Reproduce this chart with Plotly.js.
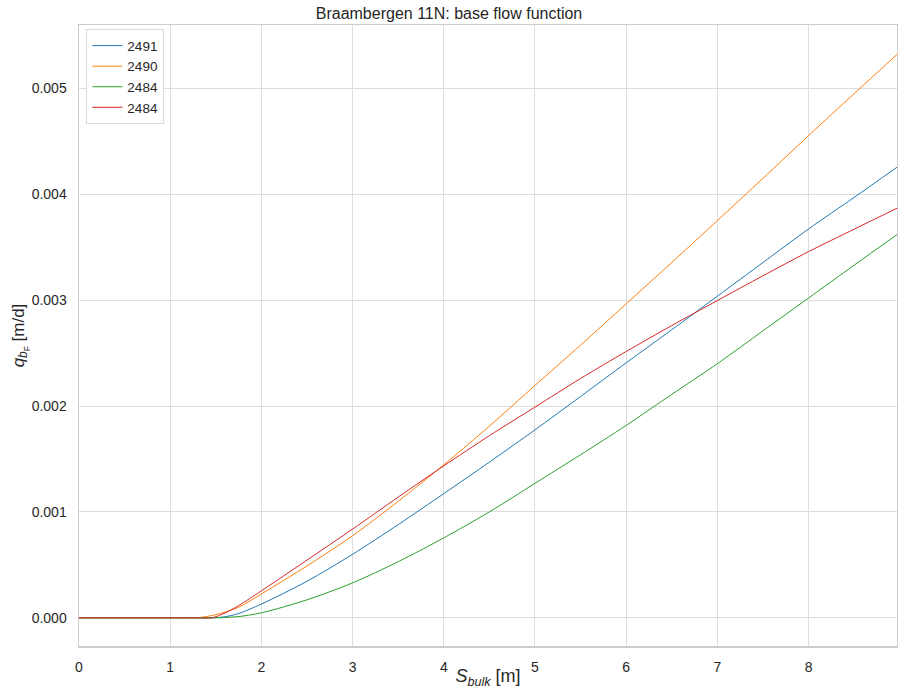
<!DOCTYPE html>
<html>
<head>
<meta charset="utf-8">
<script src="https://cdn.plot.ly/plotly-3.0.1.min.js"></script>
<style>html,body{margin:0;padding:0;background:#fff;}#chart{width:898px;height:689px;}</style>
</head>
<body>
<div id="chart"></div>
<script>
// Series names (legend labels)
const seriesNames = ["2491", "2490", "2484", "2484"];

// S_bulk [m] and q_bF [m/d] readings per series
const x2491 = [0, 1.3, 1.455, 1.6, 1.75, 2, 2.5, 3, 3.5, 4, 4.5, 5, 5.5, 6, 6.5, 7, 7.5, 8, 8.5, 8.97];
const y2491 = [0, 0, 0, 0.00001, 0.00004, 0.00013, 0.000345, 0.0006, 0.00088, 0.001173, 0.00147, 0.001775, 0.00209, 0.002408, 0.00272, 0.003037, 0.003355, 0.003672, 0.00397, 0.004255];

const x2490 = [0, 1.1, 1.29, 1.5, 1.75, 2, 2.5, 3, 3.5, 4, 4.5, 5, 5.5, 6, 6.5, 7, 7.5, 8, 8.5, 8.97];
const y2490 = [0, 0, 0, 0.00003, 0.0001, 0.000225, 0.00049, 0.000775, 0.0011, 0.001445, 0.00181, 0.002194, 0.002575, 0.002965, 0.003355, 0.003751, 0.00415, 0.004553, 0.00495, 0.00532];

const x2484a = [0, 1.3, 1.5, 1.75, 2, 2.5, 3, 3.5, 4, 4.5, 5, 5.5, 6, 6.5, 7, 7.5, 8, 8.5, 8.97];
const y2484a = [0, 0, 0, 0.000012, 0.000047, 0.00017, 0.00033, 0.00053, 0.000755, 0.001, 0.00127, 0.00154, 0.001817, 0.00211, 0.0024, 0.00271, 0.00302, 0.00333, 0.003619];

const x2484b = [0, 1.3, 1.455, 1.6, 1.75, 2, 2.5, 3, 3.5, 4, 4.5, 5, 5.5, 6, 6.5, 7, 7.5, 8, 8.5, 8.97];
const y2484b = [0, 0, 0, 0.000045, 0.000115, 0.000255, 0.000545, 0.000838, 0.00114, 0.001435, 0.00172, 0.00199, 0.00226, 0.002515, 0.00276, 0.002996, 0.00323, 0.003458, 0.00367, 0.003868];

const colors = ["#1f77b4", "#ff7f0e", "#2ca02c", "#d62728"];
const xs = [x2491, x2490, x2484a, x2484b];
const ys = [y2491, y2490, y2484a, y2484b];

const yTickVals = [0, 0.001, 0.002, 0.003, 0.004, 0.005];
const xTickVals = [0, 1, 2, 3, 4, 5, 6, 7, 8];

const font = "Liberation Sans, Arial, Helvetica, sans-serif";

const traces = xs.map((x, i) => ({
  x: x, y: ys[i], name: seriesNames[i], type: "scatter", mode: "lines",
  line: {color: colors[i], width: 1, shape: "spline", smoothing: 0.8}
}));

const layout = {
  width: 898, height: 689,
  margin: {l: 79, r: 1, t: 25, b: 43, pad: 0},
  paper_bgcolor: "#ffffff", plot_bgcolor: "#ffffff",
  font: {family: font, size: 14, color: "#262626"},
  title: {text: "Braambergen 11N: base flow function", font: {family: font, size: 16, color: "#262626"}, x: 0.5, xanchor: "center", y: 0.981, yanchor: "middle"},
  showlegend: true,
  legend: {x: 0.009, y: 0.993, xanchor: "left", yanchor: "top", bgcolor: "#ffffff", bordercolor: "#d9d9d9", borderwidth: 1, font: {family: font, size: 13.5, color: "#262626"}, tracegroupgap: 0, itemwidth: 30},
  xaxis: {
    range: [0, 8.97], tickvals: xTickVals, ticktext: xTickVals.map(String),
    showgrid: true, gridcolor: "#dedede", gridwidth: 1, zeroline: false,
    showline: true, linecolor: "#cccccc", linewidth: 1.5, mirror: true,
    ticks: "", ticklabelstandoff: 8,
    title: {text: "<i>S</i><sub><i>bulk</i></sub> [m]", font: {family: font, size: 18, color: "#262626"}, standoff: 4}
  },
  yaxis: {
    range: [-0.000266, 0.005598], tickvals: yTickVals, tickformat: ".3f",
    showgrid: true, gridcolor: "#dedede", gridwidth: 1, zeroline: false,
    showline: true, linecolor: "#cccccc", linewidth: 1.5, mirror: true,
    ticks: "", ticklabelstandoff: 8,
    title: {text: "<i>q</i><sub><i>b</i><sub>F</sub></sub> [m/d]", font: {family: font, size: 17, color: "#262626"}, standoff: 0}
  }
};

Plotly.newPlot("chart", traces, layout, {displayModeBar: false, staticPlot: true});
</script>
</body>
</html>
